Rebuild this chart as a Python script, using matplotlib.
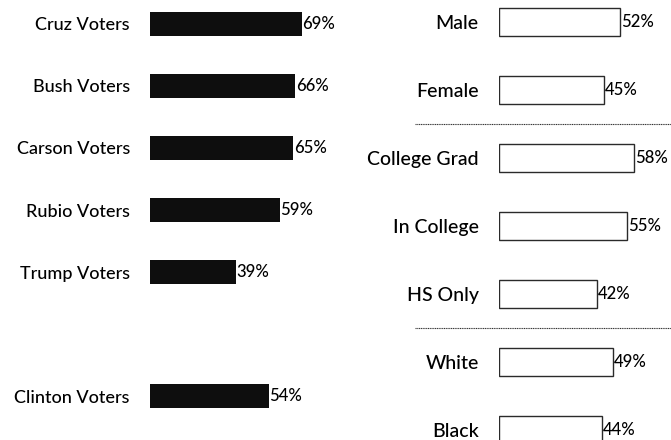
import matplotlib.pyplot as plt

# Data
candidates = ['Cruz Voters', 'Bush Voters', 'Carson Voters', 'Rubio Voters',
              'Trump Voters', 'Clinton Voters']
candidate_pct = [69, 66, 65, 59, 39, 54]

groups = ['Male', 'Female', 'College Grad', 'In College', 'HS Only',
          'White', 'Black']
group_pct = [52, 45, 58, 55, 42, 49, 44]

plt.rcParams['font.family'] = ['Lato', 'DejaVu Sans']
plt.rcParams['font.weight'] = 'medium'

W, H = 671, 440
fig = plt.figure(figsize=(W / 100, H / 100), dpi=100)
fig.patch.set_facecolor('white')


def make_axes(x0, x1, px_per_pct, row0, row_step):
    # axes over full height, x from pixel x0 to x1, y in row units
    ax = fig.add_axes([x0 / W, 0, (x1 - x0) / W, 1])
    ax.set_xlim(0, (x1 - x0) / px_per_pct)
    ax.set_ylim((H - row0) / row_step, -row0 / row_step)
    for s in ax.spines.values():
        s.set_visible(False)
    ax.set_xticks([])
    ax.tick_params(axis='y', length=0, pad=14.5)
    return ax


# Left panel: candidate supporters
axl = make_axes(150, 340, 2.2, 24, 62)
rows_l = list(range(5)) + [6]
axl.barh(rows_l, candidate_pct, height=0.40, color='#0e0e0e')
axl.set_yticks(rows_l)
axl.set_yticklabels(candidates, fontsize=13, weight='medium')
for r, v in zip(rows_l, candidate_pct):
    axl.text(v + 0.3, r, f'{v}%', va='center', ha='left', fontsize=12,
             weight='medium')

# Right panel: demographics
axr = make_axes(499, 671, 2.33, 22, 68)
rows_r = list(range(len(groups)))
axr.barh(rows_r, group_pct, height=0.41, color='white',
         edgecolor='#2a2a2a', linewidth=1.0)
axr.set_yticks(rows_r)
axr.set_yticklabels(groups, fontsize=14, weight='medium')
for r, v in zip(rows_r, group_pct):
    axr.text(v + 0.4, r, f'{v}%', va='center', ha='left', fontsize=12,
             weight='medium')

# dotted separators between groups
for y in [1.5, 4.5]:
    axr.plot([-36, 74], [y, y], color='#333333', lw=0.8, ls=(0, (1, 0.6)),
             clip_on=False)

fig.savefig('out.png', dpi=100)
